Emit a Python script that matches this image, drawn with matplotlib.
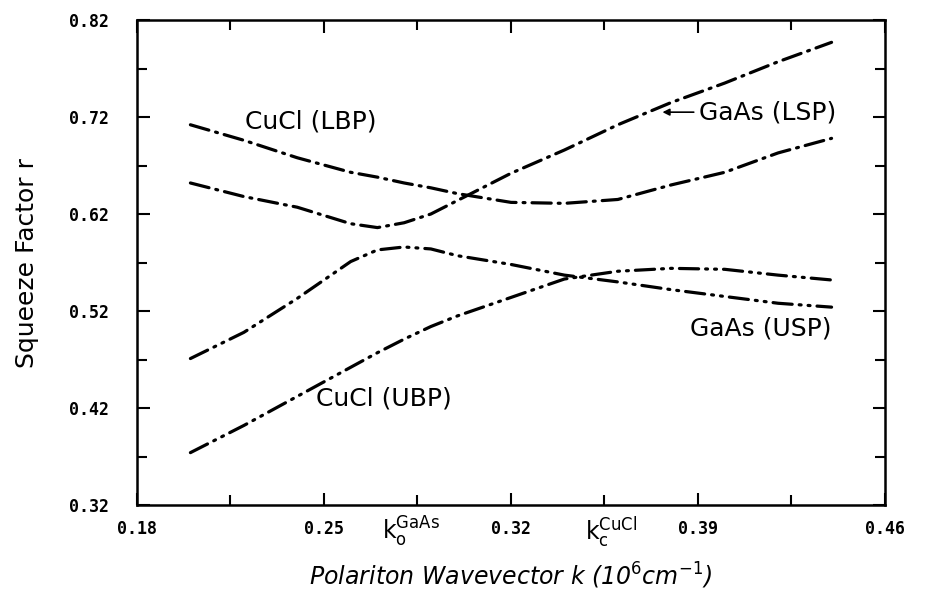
import numpy as np
from matplotlib import pyplot as plt

# wavevector samples (10^6 cm^-1)
k = [0.20, 0.22, 0.24, 0.26, 0.27, 0.28, 0.29, 0.30, 0.32, 0.34, 0.36, 0.38, 0.40, 0.42, 0.44]

# squeeze factor
gaas_lsp = [0.652, 0.638, 0.627, 0.610, 0.606, 0.611, 0.620, 0.634, 0.662, 0.686, 0.712, 0.735, 0.755, 0.777, 0.797]
cucl_lbp = [0.712, 0.696, 0.678, 0.663, 0.658, 0.652, 0.647, 0.641, 0.632, 0.631, 0.635, 0.650, 0.663, 0.683, 0.698]
gaas_usp = [0.471, 0.498, 0.533, 0.571, 0.583, 0.586, 0.584, 0.577, 0.568, 0.557, 0.550, 0.542, 0.535, 0.528, 0.524]
cucl_ubp = [0.374, 0.402, 0.432, 0.462, 0.477, 0.491, 0.504, 0.515, 0.534, 0.553, 0.561, 0.564, 0.563, 0.557, 0.552]

xticks = [0.18, 0.25, 0.32, 0.39, 0.46]
yticks = [0.32, 0.42, 0.52, 0.62, 0.72, 0.82]

fig = plt.figure(figsize=(9.3, 5.94), dpi=100)
ax = fig.add_axes([0.1473, 0.1498, 0.8043, 0.8165])

dash_dot = (0, (6, 2.2, 0.6, 2.2))
dash_dot_dot = (0, (6, 2.2, 0.6, 2.2, 0.6, 2.2))
lw = 2.3
ax.plot(k, gaas_lsp, color='black', lw=lw, linestyle=dash_dot, dash_capstyle='round')
ax.plot(k, cucl_lbp, color='black', lw=lw, linestyle=dash_dot, dash_capstyle='round')
ax.plot(k, gaas_usp, color='black', lw=lw, linestyle=dash_dot_dot, dash_capstyle='round')
ax.plot(k, cucl_ubp, color='black', lw=lw, linestyle=dash_dot_dot, dash_capstyle='round')

ax.set_xlim(0.18, 0.46)
ax.set_ylim(0.32, 0.82)
ax.set_xticks(xticks)
ax.set_yticks(yticks)
ax.set_xticks(np.arange(0.215, 0.46, 0.07), minor=True)
ax.set_yticks(np.arange(0.37, 0.82, 0.1), minor=True)
ax.set_xticklabels(['%.2f' % v for v in xticks], family='DejaVu Sans Mono', weight='bold', fontsize=12)
ax.set_yticklabels(['%.2f' % v for v in yticks], family='DejaVu Sans Mono', weight='bold', fontsize=12)
ax.tick_params(which='both', direction='in', top=True, right=True, width=1.5)
ax.tick_params(which='major', length=9)
ax.tick_params(which='minor', length=7)
ax.tick_params(axis='y', which='major', pad=20)
ax.tick_params(axis='x', which='major', pad=11)
for s in ax.spines.values():
    s.set_linewidth(1.8)

ax.text(0.245, 0.715, 'CuCl (LBP)', fontsize=18, ha='center', va='center')
ax.text(0.2724, 0.430, 'CuCl (UBP)', fontsize=18, ha='center', va='center')
ax.text(0.4135, 0.502, 'GaAs (USP)', fontsize=18, ha='center', va='center')
ax.annotate('GaAs (LSP)', xy=(0.3767, 0.725), xytext=(0.3905, 0.725),
            fontsize=18, ha='left', va='center',
            arrowprops=dict(arrowstyle='-|>', color='black', lw=1.2, mutation_scale=10,
                            shrinkA=2, shrinkB=0))

fig.text(382 / 930, 1 - 540 / 594, r'k$_\mathrm{o}^\mathrm{GaAs}$', fontsize=17, ha='left', va='baseline')
fig.text(585 / 930, 1 - 540 / 594, r'k$_\mathrm{c}^\mathrm{CuCl}$', fontsize=17, ha='left', va='baseline')

ax.set_xlabel(r'Polariton Wavevector k (10$^6$cm$^{-1}$)', fontsize=17, fontstyle='italic', labelpad=16)
ax.set_ylabel('Squeeze Factor r', fontsize=18, labelpad=22)

fig.savefig('out.png', dpi=100)
